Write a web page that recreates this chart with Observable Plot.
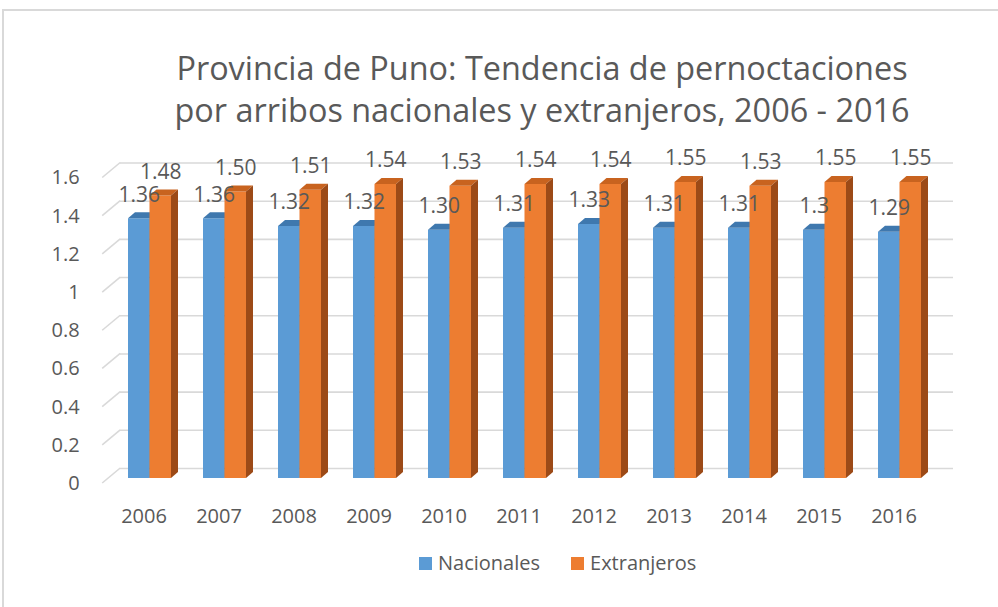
<!DOCTYPE html>
<html>
<head>
<meta charset="utf-8">
<script src="https://cdn.jsdelivr.net/npm/d3@7"></script>
<script src="https://cdn.jsdelivr.net/npm/@observablehq/plot@0.6"></script>
<style>
  html, body { margin: 0; padding: 0; background: #fff; }
  #wrap { position: relative; width: 998px; height: 607px; overflow: hidden; font-family: "Open Sans", Lato, sans-serif; color: #595959; }
  #frame { position: absolute; left: 2px; top: 9px; width: 1100px; height: 700px; border-top: 2px solid #d9d9d9; border-left: 2px solid #d9d9d9; }
  #title { position: absolute; left: 0; top: 46px; width: 1084px; text-align: center; font-size: 32.4px; line-height: 42px; white-space: nowrap; }
  #chart { position: absolute; left: 0; top: 0; }
  #legend { position: absolute; left: 419px; top: 548px; display: flex; align-items: center; font-size: 20px; line-height: 30px; }
  #legend .item { display: flex; align-items: center; margin-right: 31px; }
  #legend .sw { width: 13px; height: 13px; margin-right: 6px; }
</style>
</head>
<body>
<div id="wrap">
  <div id="frame"></div>
  <div id="chart"></div>
  <div id="title">Provincia de Puno: Tendencia de pernoctaciones<br>por arribos nacionales y extranjeros, 2006 - 2016</div>
  <div id="legend"></div>
</div>
<script>
const years = ["2006","2007","2008","2009","2010","2011","2012","2013","2014","2015","2016"];
const seriesNames = ["Nacionales","Extranjeros"];
const nacionales = [1.36,1.36,1.32,1.32,1.30,1.31,1.33,1.31,1.31,1.30,1.29];
const extranjeros = [1.48,1.50,1.51,1.54,1.53,1.54,1.54,1.55,1.53,1.55,1.55];
const nacionalesLabels = ["1.36","1.36","1.32","1.32","1.30","1.31","1.33","1.31","1.31","1.3","1.29"];
const extranjerosLabels = ["1.48","1.50","1.51","1.54","1.53","1.54","1.54","1.55","1.53","1.55","1.55"];
const yTicks = [0,0.2,0.4,0.6,0.8,1,1.2,1.4,1.6];
const yTickLabels = ["0","0.2","0.4","0.6","0.8","1","1.2","1.4","1.6"];

const palette = {
  Nacionales: {front: "#5B9BD5", top: "#3F78AE", side: "#2F5D88"},
  Extranjeros: {front: "#ED7D31", top: "#C8631F", side: "#9C4A17"}
};

const rows = years.flatMap((yr, i) => [
  {year: yr, series: "Nacionales", k: 0, value: nacionales[i], label: nacionalesLabels[i]},
  {year: yr, series: "Extranjeros", k: 1, value: extranjeros[i], label: extranjerosLabels[i]}
]);

const W = 998, H = 607;
const padding = 0.433;
const DX = 7, DY = 6;

function bars3D(index, scales) {
  const {x, y} = scales;
  const half = x.bandwidth() / 2;
  const g = d3.create("svg:g");
  for (const i of index) {
    const d = rows[i];
    const c = palette[d.series];
    const xl = x(d.year) + d.k * half, xr = xl + half;
    const yt = y(d.value), yb = y(0);
    g.append("path").attr("fill", c.front).attr("d", `M${xl},${yb}H${xr}V${yt}H${xl}Z`);
    g.append("path").attr("fill", c.top).attr("d", `M${xl},${yt}L${xl + DX},${yt - DY}L${xr + DX},${yt - DY}L${xr},${yt}Z`);
    g.append("path").attr("fill", c.side).attr("d", `M${xr},${yt}L${xr + DX},${yt - DY}L${xr + DX},${yb - DY}L${xr},${yb}Z`);
  }
  return g.node();
}

function diagonals(index, scales, values, dims) {
  const g = d3.create("svg:g").attr("stroke", "#d9d9d9").attr("stroke-width", 1.6).attr("fill", "none");
  const x0 = dims.marginLeft + 11;
  for (const i of index) {
    const yy = scales.y(yTicks[i]);
    g.append("path").attr("d", `M${x0},${yy + 5}L${x0 + 18},${yy - 10}`);
  }
  return g.node();
}

const chart = Plot.plot({
  width: W,
  height: H,
  marginLeft: 91.2,
  marginRight: 40.2,
  marginTop: 172.5,
  marginBottom: H - 478,
  style: {fontFamily: "'Open Sans', Lato, sans-serif", fontSize: "20px", color: "#595959", background: "transparent"},
  x: {domain: years, padding: padding, label: null},
  y: {domain: [0, 1.6], label: null},
  marks: [
    Plot.ruleY(yTicks, {y: d => d, stroke: "#d9d9d9", strokeWidth: 1.6, dy: -10, insetLeft: 28.8, insetRight: 4.8}),
    Plot.ruleY(yTicks, {y: d => d, render: diagonals}),
    Plot.barY(rows, {x: "year", y: "value", render: bars3D}),
    Plot.text(rows.filter(d => d.k === 0), {x: "year", y: "value", text: "label", dx: -10.75, dy: -24, fill: "#595959", fontSize: 21}),
    Plot.text(rows.filter(d => d.k === 1), {x: "year", y: "value", text: "label", dx: 10.75, dy: -24, fill: "#595959", fontSize: 21}),
    Plot.axisY(yTicks, {tickSize: 0, tickPadding: 12, dy: 5, tickFormat: (d, i) => yTickLabels[i], label: null}),
    Plot.axisX({tickSize: 0, tickPadding: 30, dx: -6, label: null})
  ]
});
document.getElementById("chart").appendChild(chart);

const legend = d3.select("#legend");
for (const s of seriesNames) {
  const it = legend.append("div").attr("class", "item");
  it.append("div").attr("class", "sw").style("background", palette[s].front);
  it.append("span").text(s);
}
</script>
</body>
</html>
